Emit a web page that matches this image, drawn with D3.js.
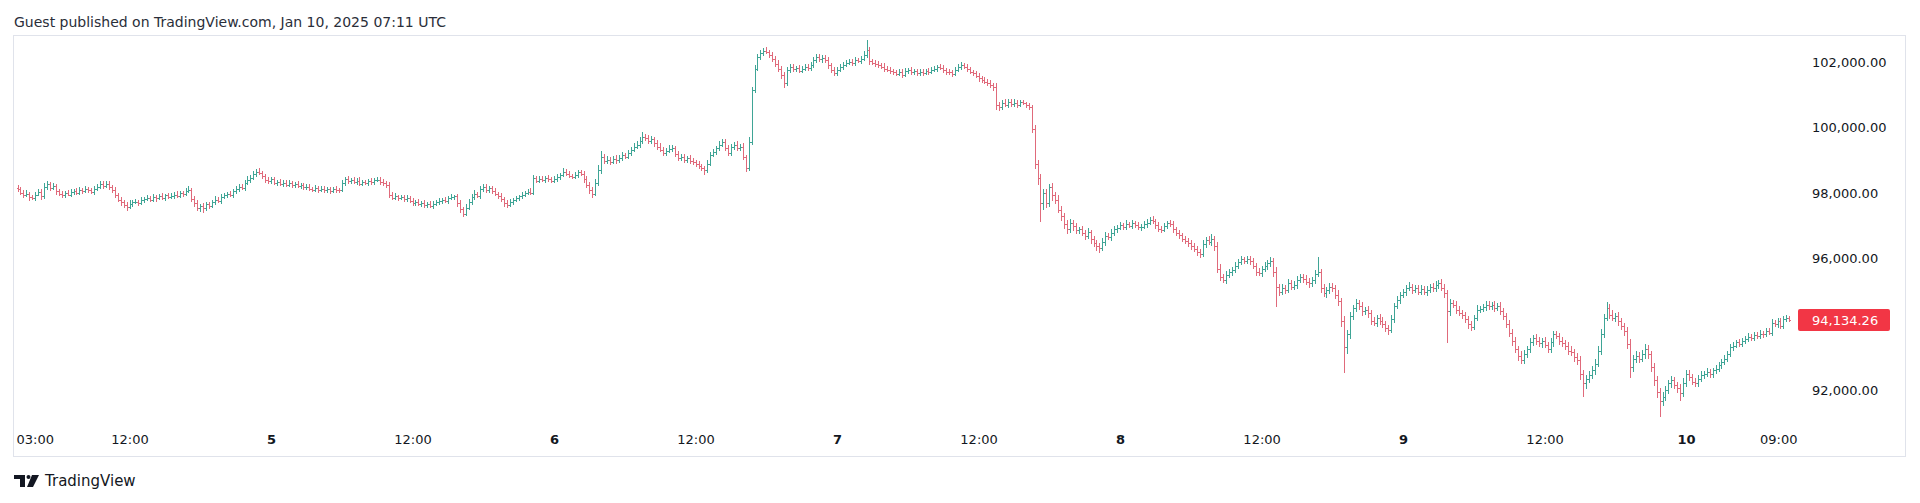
<!DOCTYPE html>
<html><head><meta charset="utf-8">
<script src="https://cdn.jsdelivr.net/npm/d3@7"></script>
<style>
html,body{margin:0;padding:0;background:#fff;}
svg{display:block;}
text{font-family:"DejaVu Sans",sans-serif;}
</style></head><body>
<svg id="c" width="1920" height="503"></svg>
<script>
// ---- data (15-minute OHLC bars) ----
const startTime = "2025-01-04T02:30:00Z";
const barMinutes = 15;
const firstOpen = 98150;
const closes = [
98120,98020,97930,97980,97870,97850,97960,98040,97900,98180,
98270,98150,98210,98060,97990,97930,98000,97960,98040,98080,
98020,98100,98070,98130,98090,98050,98120,98200,98280,98230,
98290,98190,98110,97950,97800,97720,97650,97590,97680,97720,
97740,97700,97790,97820,97850,97800,97880,97840,97900,97860,
97930,97880,97910,97960,97920,98000,97970,98060,98100,97820,
97690,97560,97600,97540,97660,97620,97720,97800,97760,97880,
97930,97990,97950,98060,98120,98200,98150,98320,98400,98470,
98580,98660,98620,98520,98400,98360,98420,98300,98340,98280,
98320,98260,98300,98240,98270,98210,98240,98180,98200,98130,
98110,98160,98100,98140,98090,98120,98080,98130,98100,98090,
98300,98420,98360,98400,98340,98380,98290,98330,98300,98360,
98330,98390,98410,98350,98300,98260,97960,97860,97900,97840,
97870,97820,97850,97760,97700,97720,97680,97700,97640,97660,
97610,97680,97720,97760,97800,97760,97850,97890,97900,97700,
97520,97380,97560,97720,97890,97980,97900,98120,98200,98100,
98150,98060,97990,97900,97820,97700,97640,97720,97780,97840,
97900,97960,98000,98050,98020,98450,98380,98430,98400,98460,
98420,98380,98440,98480,98560,98660,98600,98520,98500,98560,
98640,98590,98420,98260,98100,97990,98300,98700,99100,98980,
99020,98950,99050,99000,99080,99150,99110,99220,99330,99420,
99480,99600,99720,99680,99580,99640,99520,99420,99330,99220,
99290,99360,99380,99200,99060,99100,99020,99070,98980,98940,
98900,98820,98760,98700,98900,99160,99250,99370,99480,99570,
99380,99220,99400,99470,99380,99420,99100,98760,99550,101150,
101800,102150,102280,102350,102300,102200,102100,101950,101800,101600,
101350,101750,101860,101780,101820,101740,101800,101860,101820,101900,
102050,102160,102080,102120,102060,101900,101750,101650,101760,101860,
101920,101980,102010,101960,102060,102040,102100,102220,102380,102020,
101980,101950,101900,101860,101800,101760,101720,101680,101640,101700,
101600,101720,101760,101680,101720,101650,101700,101660,101720,101700,
101760,101800,101850,101830,101760,101700,101680,101640,101760,101850,
101910,101860,101780,101700,101650,101580,101500,101450,101400,101360,
101300,101240,100700,100620,100760,100700,100780,100720,100760,100700,
100780,100740,100680,100620,99950,98900,98450,97700,98000,97700,
98200,97950,97800,97500,97300,97050,96900,97100,97000,96880,
96900,96780,96700,96820,96600,96480,96380,96320,96500,96700,
96650,96800,96900,96950,97020,96980,97060,97000,97080,97020,
96960,96980,97050,97100,97180,97150,97020,96900,96880,97000,
97080,97050,96900,96780,96720,96600,96550,96470,96400,96300,
96200,96160,96450,96580,96520,96600,96400,95700,95450,95350,
95500,95600,95650,95780,95900,95980,95940,96000,95920,95780,
95600,95560,95700,95780,95880,95920,95600,95150,95000,95100,
95050,95250,95150,95200,95350,95450,95380,95300,95250,95350,
95550,95600,95100,94950,95050,95150,95100,94900,94700,94100,
93300,93700,94250,94500,94650,94550,94400,94450,94350,94100,
94050,94200,94100,94000,93900,93830,94150,94550,94750,94900,
94980,95100,95150,95050,95100,95000,95080,95000,95060,95150,
95100,95200,95260,95100,94950,94400,94650,94600,94450,94350,
94300,94150,94000,93930,94200,94450,94480,94520,94600,94550,
94600,94500,94560,94400,94250,94000,93750,93500,93250,93050,
92920,93100,93250,93450,93580,93500,93420,93500,93380,93250,
93450,93700,93650,93500,93420,93350,93200,93150,93000,92900,
92500,92200,92350,92450,92600,92800,93200,93700,94200,94500,
94300,94200,94250,94100,93950,93800,93400,92700,92950,93050,
92950,93100,93250,93100,92700,92300,91950,91650,91800,92000,
92200,92300,92150,92050,91900,92200,92500,92400,92250,92200,
92350,92450,92500,92550,92480,92600,92650,92750,92850,92950,
93100,93300,93350,93450,93400,93500,93550,93620,93580,93680,
93650,93720,93700,93800,93750,94050,94000,94100,93950,94150,
94200,94134.26
];
// upper wick above the bar body, dollars
const wickHi = [
90,70,80,110,60,90,70,100,80,120,90,70,100,60,80,90,70,110,80,60,
80,100,70,90,60,80,110,70,100,80,90,70,60,80,70,90,60,80,100,70,
90,60,80,70,100,60,90,80,70,110,60,80,90,70,100,80,60,90,110,70,
80,100,60,90,70,80,60,100,70,90,80,60,90,70,100,80,90,70,110,80,
90,70,100,60,80,90,70,80,60,90,70,80,100,60,70,90,60,80,70,90,
70,80,60,90,70,60,80,70,90,60,110,70,90,60,80,70,100,60,80,70,
90,60,80,70,90,60,80,70,100,60,80,70,90,60,80,70,90,60,80,70,
90,70,80,100,60,90,70,80,60,90,100,70,110,90,80,120,70,100,80,90,
70,80,90,60,100,70,80,90,70,80,60,90,70,80,100,110,70,90,80,70,
90,60,80,100,70,110,80,90,70,100,80,70,90,110,80,90,120,150,200,110,
100,90,80,120,90,100,80,110,90,120,100,110,150,90,100,110,80,90,100,80,
90,110,80,70,100,90,80,70,90,80,70,90,80,70,100,90,110,80,120,90,
80,100,90,80,110,90,100,70,150,100,110,90,100,80,110,70,90,80,100,80,
90,110,80,90,70,100,80,90,70,100,90,80,70,90,100,80,70,90,80,90,
80,70,90,80,100,70,90,110,290,90,80,70,90,80,100,70,90,80,70,90,
80,90,70,100,80,70,90,80,70,100,80,90,70,90,80,70,90,80,100,90,
80,70,90,80,70,90,80,70,90,80,100,70,110,90,80,100,90,80,100,70,
60,50,40,70,80,120,100,150,120,140,90,110,80,150,100,90,120,110,90,100,
80,110,90,120,70,100,80,90,120,110,80,100,90,70,100,80,110,70,90,80,
100,70,90,110,80,120,70,90,100,80,70,110,90,80,100,70,90,80,110,70,
90,100,120,80,110,150,90,100,130,90,120,80,100,110,90,120,80,100,90,110,
100,130,90,110,80,120,100,140,90,120,100,130,90,110,120,100,90,130,100,110,
120,465,100,130,90,120,110,90,140,100,150,120,130,90,110,100,120,90,110,100,
130,90,110,120,100,90,140,100,120,90,110,100,130,90,110,100,120,90,110,80,
100,120,90,110,140,100,130,90,110,120,100,90,120,110,100,130,90,110,100,120,
90,110,100,120,90,110,130,100,120,90,140,110,100,130,90,120,110,100,120,90,
130,100,110,90,120,100,110,130,90,120,140,110,100,130,120,150,140,160,120,190,
110,130,100,120,110,90,120,140,110,150,100,130,160,110,100,120,140,110,130,120,
100,120,110,90,130,160,100,120,90,110,100,120,90,110,100,80,110,90,100,120,
90,110,100,80,120,90,100,110,80,100,90,110,80,100,90,120,80,100,90,110,
80,60
];
// lower wick below the bar body, dollars
const wickLo = [
70,90,80,60,100,70,90,60,110,70,80,90,60,100,70,80,90,60,80,100,
70,80,90,60,80,70,90,60,80,100,70,80,90,100,80,110,90,140,80,90,
60,80,70,90,60,80,70,100,60,80,90,70,60,90,70,80,100,70,60,90,
110,90,120,140,80,100,70,90,60,80,70,90,60,100,70,80,60,90,70,80,
70,90,60,100,80,70,90,60,80,70,90,60,80,70,90,60,80,70,90,60,
80,70,90,60,80,70,90,60,80,70,60,90,70,80,60,90,70,80,60,90,
70,80,60,90,70,90,100,80,70,90,60,80,100,70,90,80,70,90,80,100,
70,90,80,70,90,60,80,70,90,120,110,100,90,80,70,90,60,80,70,90,
80,70,90,80,100,110,90,70,80,60,90,70,80,70,60,90,70,80,60,90,
70,80,60,90,70,80,90,70,80,60,90,80,100,110,120,130,90,80,100,90,
80,90,70,100,80,90,70,80,90,70,80,90,100,80,90,70,100,90,80,90,
80,70,90,110,90,80,100,90,80,90,100,80,90,130,90,80,70,90,80,70,
90,80,100,70,90,80,90,100,90,80,90,70,80,90,70,80,100,90,110,130,
150,90,80,100,70,90,80,70,90,80,70,90,80,100,90,110,100,90,80,70,
90,70,80,90,70,80,100,70,90,110,80,90,70,80,90,70,80,90,70,80,
100,70,90,80,70,90,80,100,70,90,80,70,90,80,90,100,80,90,70,80,
90,80,100,70,90,80,100,90,80,100,90,110,150,100,90,80,100,90,80,90,
70,60,80,90,120,150,200,570,200,150,120,180,140,110,160,130,150,120,140,110,
120,100,130,110,140,120,150,130,90,110,80,100,90,110,80,100,90,70,100,80,
90,110,70,100,80,90,110,80,100,70,90,80,110,100,120,90,110,100,120,90,
110,150,90,120,100,130,150,140,120,100,110,90,120,80,100,90,110,100,120,90,
110,90,120,100,110,130,150,610,120,100,130,90,110,100,120,90,110,100,130,100,
110,120,140,100,130,110,120,140,150,180,790,200,130,110,120,100,130,110,140,120,
100,130,110,120,140,150,100,110,90,120,100,110,90,120,100,110,90,100,120,90,
110,100,120,90,130,980,130,110,120,100,130,110,140,120,100,110,90,100,120,110,
100,120,90,110,130,120,140,150,130,160,140,120,110,130,100,120,110,130,100,120,
110,130,100,120,110,130,140,120,150,140,180,400,160,140,120,130,110,120,100,110,
130,110,120,140,130,150,160,345,140,120,130,110,140,160,150,170,180,465,150,130,
120,140,110,130,250,120,110,130,100,120,110,100,120,90,110,100,120,90,110,100,
100,90,110,80,100,90,110,80,100,90,110,80,100,90,80,100,90,110,80,100,
90,70
];
const priceTicks = [102000, 100000, 98000, 96000, 92000];
const timeTickDates = ["2025-01-04T03:00:00Z","2025-01-04T12:00:00Z","2025-01-05T00:00:00Z","2025-01-05T12:00:00Z",
  "2025-01-06T00:00:00Z","2025-01-06T12:00:00Z","2025-01-07T00:00:00Z","2025-01-07T12:00:00Z",
  "2025-01-08T00:00:00Z","2025-01-08T12:00:00Z","2025-01-09T00:00:00Z","2025-01-09T12:00:00Z",
  "2025-01-10T00:00:00Z","2025-01-10T09:00:00Z"];
const timeTickLabels = ["03:00","12:00","5","12:00","6","12:00","7","12:00","8","12:00","9","12:00","10","09:00"];
const headerText = "Guest published on TradingView.com, Jan 10, 2025 07:11 UTC";

// ---- build bars ----
const t0 = new Date(startTime);
const bars = closes.map((c, i) => {
  const o = i === 0 ? firstOpen : closes[i - 1];
  return { t: new Date(+t0 + i * barMinutes * 60000), o, c,
           h: Math.max(o, c) + wickHi[i], l: Math.min(o, c) - wickLo[i] };
});

const UP = "#3fa596", DOWN = "#e06a7b", BADGE = "#f23645";
const svg = d3.select("#c");

const x = d3.scaleUtc().domain([bars[0].t, bars[bars.length - 1].t]).range([17.5, 1789.3]);
const y = d3.scaleLinear().domain([92000, 102000]).range([390, 62]);

// frame
svg.append("rect").attr("x", 13.5).attr("y", 35.5).attr("width", 1892).attr("height", 421)
  .attr("fill", "none").attr("stroke", "#e0e3eb");

// header
svg.append("text").attr("x", 14).attr("y", 27).attr("font-size", 14).attr("fill", "#2a2e39").text(headerText);

// bars
const g = svg.append("g").attr("shape-rendering", "crispEdges");
const bg = g.selectAll("g.bar").data(bars).join("g").attr("class", "bar")
  .attr("fill", d => d.c >= d.o ? UP : DOWN);
bg.append("rect").attr("x", d => Math.round(x(d.t))).attr("y", d => Math.round(y(d.h)))
  .attr("width", 1).attr("height", d => Math.max(1, Math.round(y(d.l)) - Math.round(y(d.h))));
bg.append("rect").attr("x", d => Math.round(x(d.t)) - 1).attr("y", d => Math.round(y(d.o)))
  .attr("width", 1).attr("height", 1);
bg.append("rect").attr("x", d => Math.round(x(d.t)) + 1).attr("y", d => Math.round(y(d.c)))
  .attr("width", 1).attr("height", 1);

// price axis
const fmt = d3.format(",.2f");
const yAxis = d3.axisRight(y).tickValues(priceTicks).tickFormat(fmt).tickSize(0).tickPadding(0);
const ya = svg.append("g").attr("transform", "translate(1812,0)").call(yAxis);
ya.select(".domain").remove();
ya.selectAll("text").attr("font-family", "DejaVu Sans").attr("font-size", 13).attr("fill", "#131722")
  .attr("text-anchor", "start").attr("x", 0);

// last price badge
const last = bars[bars.length - 1];
const ly = y(last.c);
svg.append("rect").attr("x", 1798).attr("y", Math.round(ly) - 11).attr("width", 92).attr("height", 22)
  .attr("rx", 2).attr("fill", BADGE);
svg.append("text").attr("x", 1812).attr("y", ly).attr("dy", "0.36em").attr("font-size", 13)
  .attr("fill", "#fff").text(fmt(last.c));

// time axis
const tickDates = timeTickDates.map(s => new Date(s));
const xAxis = d3.axisBottom(x).tickValues(tickDates).tickFormat((d, i) => timeTickLabels[i]).tickSize(0).tickPadding(0);
const xa = svg.append("g").attr("transform", "translate(0,439)").call(xAxis);
xa.select(".domain").remove();
xa.selectAll("text").attr("font-family", "DejaVu Sans").attr("font-size", 13).attr("fill", "#131722")
  .attr("dy", "0.36em").attr("y", 0)
  .attr("font-weight", (d, i) => /:/.test(timeTickLabels[i]) ? "normal" : "bold");
xa.selectAll(".tick").each(function(d) {
  const t = d3.select(this).select("text");
  const w = t.node().getBBox().width;
  const cx = x(d);
  const lo = 16 + w / 2, hi = 1797 - w / 2;
  const nx = Math.max(lo, Math.min(hi, cx));
  t.attr("x", nx - cx);
});

// footer logo
const logo = svg.append("g").attr("fill", "#131722");
logo.append("path").attr("d", "M14,475 H25 V487 H20 V479 H14 Z");
logo.append("circle").attr("cx", 28.5).attr("cy", 477).attr("r", 2);
logo.append("path").attr("d", "M32,475 H39 L33,487 H27 Z");
svg.append("text").attr("x", 45).attr("y", 486).attr("font-size", 15).attr("fill", "#131722").text("TradingView");
</script>
</body></html>
